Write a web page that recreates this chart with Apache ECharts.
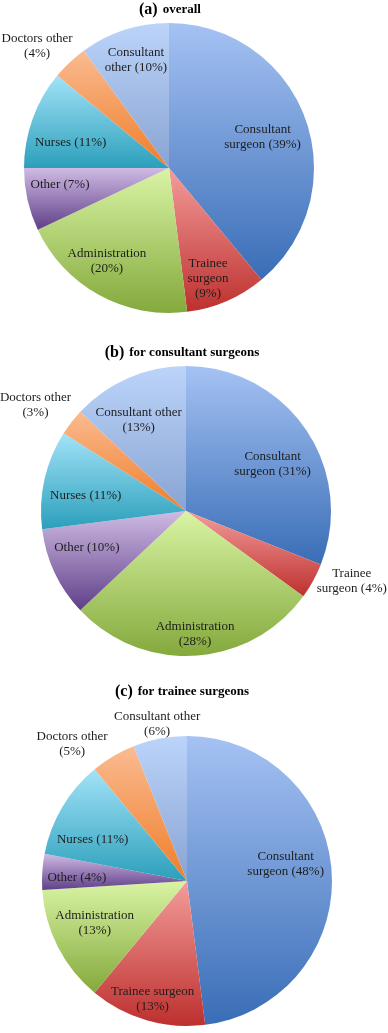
<!DOCTYPE html>
<html>
<head>
<meta charset="utf-8">
<script src="https://cdn.jsdelivr.net/npm/echarts@6/dist/echarts.min.js"></script>
<style>
    html, body { margin: 0; padding: 0; background: #fff; }
    #chart { width: 388px; height: 1033px; }
</style>
</head>
<body>
<div id="chart"></div>
<script>
// categories, clockwise from 12 o'clock
const categories = [
    'Consultant surgeon',
    'Trainee surgeon',
    'Administration',
    'Other',
    'Nurses',
    'Doctors other',
    'Consultant other'
];

// percentages per panel
const overallValues = [39, 9, 20, 7, 11, 4, 10];
const consultantValues = [31, 4, 28, 10, 11, 3, 13];
const traineeValues = [48, 13, 13, 4, 11, 5, 6];

// label text as wrapped in each panel (a trailing \n puts the % on its own line)
const overallLabels = ['Consultant\nsurgeon', 'Trainee\nsurgeon\n', 'Administration\n', 'Other', 'Nurses', 'Doctors other\n', 'Consultant\nother'];
const consultantLabels = ['Consultant\nsurgeon', 'Trainee\nsurgeon', 'Administration\n', 'Other', 'Nurses', 'Doctors other\n', 'Consultant other\n'];
const traineeLabels = ['Consultant\nsurgeon', 'Trainee surgeon\n', 'Administration\n', 'Other', 'Nurses', 'Doctors other\n', 'Consultant other\n'];

const panelTitles = [
    ['(a)', 'overall'],
    ['(b)', 'for consultant surgeons'],
    ['(c)', 'for trainee surgeons']
];

// top / bottom colours of the gradient of each slice
const colorTop = ['#a5c2f3', '#f39d9b', '#d9f4a4', '#cfbbe4', '#a2e3f8', '#fabb91', '#bcd4fa'];
const colorBottom = ['#396db6', '#bd302e', '#84a93c', '#5f3f88', '#2c9fbb', '#ef7d28', '#88a4d2'];

// where each label sits: fraction of the radius, and a small turn (deg) off the mid angle
const labelPlace = [
    { k: [0.68, 0.81, 0.77, 0.76, 0.70, 1.24, 0.78], turn: [1.5, 4, 5, 4, -5.5, -4, 1] },
    { k: [0.68, 1.24, 0.85, 0.73, 0.70, 1.27, 0.71], turn: [5.6, -6, -0.6, 4.7, -3.6, -2.6, -4] },
    { k: [0.69, 0.85, 0.70, 0.76, 0.71, 1.23, 1.10], turn: [-6, 0, 2.4, -2, -7, -9.5, 0] }
];

const pieCenters = [[169, 168], [186, 511], [187, 881]];
const pieRadius = 145;
const titleSpots = [[170, 1], [182, 344], [182, 683]];

const FONT = '"Liberation Serif", "DejaVu Serif", serif';

function gradientFor(i) {
    return new echarts.graphic.LinearGradient(0, 0, 0, 1, [
        { offset: 0, color: colorTop[i] },
        { offset: 1, color: colorBottom[i] }
    ]);
}

function makePie(panel, values, labels) {
    const total = values.reduce((a, b) => a + b, 0);
    const place = labelPlace[panel];
    const center = pieCenters[panel];

    // mid angle of each slice, clockwise from 12 o'clock
    let acc = 0;
    const mids = values.map(v => {
        const m = (acc + v / 2) / total * 360;
        acc += v;
        return m;
    });

    return {
        type: 'pie',
        center,
        radius: pieRadius,
        startAngle: 90,
        clockwise: true,
        silent: true,
        animation: false,
        avoidLabelOverlap: false,
        itemStyle: { borderWidth: 0 },
        label: {
            show: true,
            position: 'inside',
            fontFamily: FONT,
            fontSize: 13,
            lineHeight: 15,
            color: '#1d1d1d',
            align: 'center',
            formatter: p => {
                const t = labels[p.dataIndex];
                return t.endsWith('\n')
                    ? `${t}(${p.value}%)`
                    : `${t} (${p.value}%)`;
            }
        },
        labelLine: { show: false },
        labelLayout: p => {
            const i = p.dataIndex;
            const a = (mids[i] + place.turn[i]) * Math.PI / 180;
            const d = place.k[i] * pieRadius;
            return {
                x: center[0] + d * Math.sin(a),
                y: center[1] - d * Math.cos(a),
                align: 'center',
                verticalAlign: 'middle'
            };
        },
        data: categories.map((name, i) => ({
            name,
            value: values[i],
            itemStyle: { color: gradientFor(i) }
        }))
    };
}

const chart = echarts.init(document.getElementById('chart'), null, { renderer: 'canvas' });

const option = {
    backgroundColor: '#fff',
    title: panelTitles.map((t, i) => ({
        text: `{p|${t[0]}} {w|${t[1]}}`,
        left: titleSpots[i][0],
        top: titleSpots[i][1],
        textAlign: 'center',
        padding: 0,
        textStyle: {
            rich: {
                p: { fontFamily: FONT, fontWeight: 'bold', fontSize: 16, color: '#000' },
                w: { fontFamily: FONT, fontWeight: 'bold', fontSize: 13, color: '#000' }
            }
        }
    })),
    series: [
        makePie(0, overallValues, overallLabels),
        makePie(1, consultantValues, consultantLabels),
        makePie(2, traineeValues, traineeLabels)
    ]
};

chart.setOption(option);
</script>
</body>
</html>
